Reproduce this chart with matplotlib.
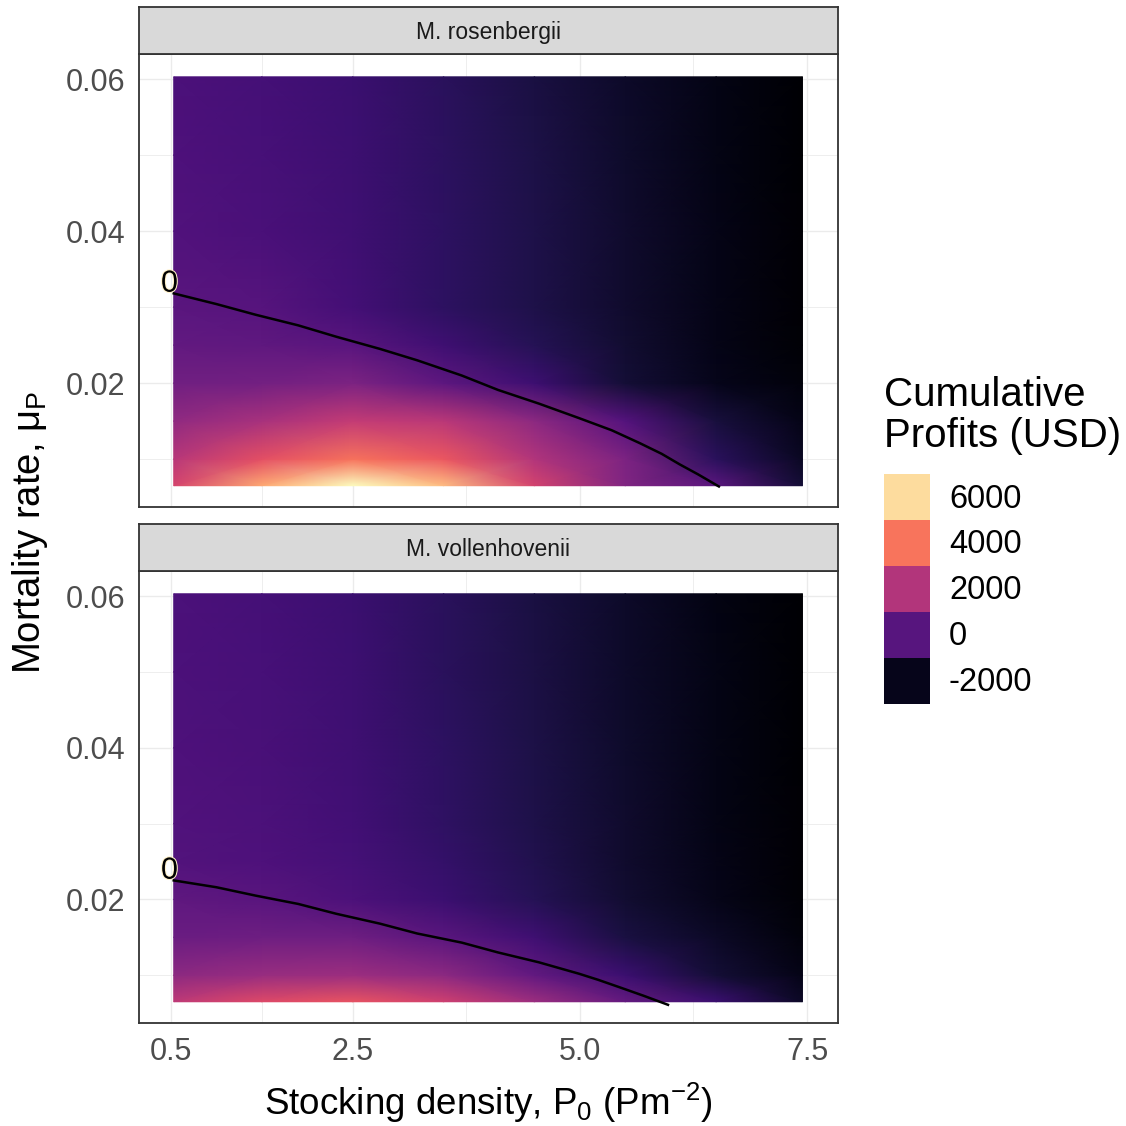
import numpy as np
import matplotlib.pyplot as plt
from matplotlib.colors import Normalize
from matplotlib.patches import Patch
import matplotlib.patheffects as pe

plt.rcParams["font.family"] = ["Liberation Sans", "DejaVu Sans"]
plt.rcParams["mathtext.fontset"] = "custom"
plt.rcParams["mathtext.rm"] = "Liberation Sans"
plt.rcParams["mathtext.it"] = "Liberation Sans:italic"

species = ["M. rosenbergii", "M. vollenhovenii"]

# grid of stocking density (columns) and mortality rate (rows)
p0 = [0.53, 1.5, 2.5, 3.5, 4.5, 5.5, 6.5, 7.45]
mu = [0.0065, 0.01, 0.015, 0.02, 0.025, 0.03, 0.04, 0.05, 0.0603]

# cumulative profits (USD)
profit_rosenbergii = [
    [2780, 5000, 6650, 5400, 2740, 920, 50, -1540],
    [2150, 3200, 3950, 3400, 2010, 830, -990, -1860],
    [1280, 1800, 2400, 2190, 1190, -100, -1450, -2090],
    [550, 640, 830, 140, -580, -1540, -2000, -2270],
    [230, 160, 20, -540, -1080, -1630, -2090, -2360],
    [60, -60, -450, -900, -1270, -1680, -2090, -2400],
    [-175, -310, -540, -900, -1270, -1680, -2090, -2400],
    [-220, -360, -585, -950, -1310, -1720, -2110, -2430],
    [-270, -400, -630, -990, -1360, -1740, -2130, -2450],
]
profit_vollenhovenii = [
    [2280, 3010, 3280, 2640, 1550, 280, -630, -1810],
    [1190, 1460, 1550, 1190, 250, -630, -1540, -2090],
    [420, 510, 510, 50, -540, -1360, -1810, -2270],
    [150, 20, -270, -630, -1080, -1630, -2040, -2360],
    [-130, -220, -400, -770, -1180, -1680, -2090, -2400],
    [-175, -280, -490, -860, -1270, -1700, -2100, -2410],
    [-220, -340, -560, -920, -1290, -1720, -2120, -2430],
    [-250, -375, -595, -960, -1320, -1740, -2130, -2440],
    [-270, -400, -630, -990, -1360, -1750, -2140, -2450],
]

# zero-profit contour
zero_p0_ros = [0.53, 1.0, 1.43, 1.9, 2.32, 2.8, 3.21, 3.7, 4.10, 4.55, 4.99, 5.35, 5.66, 5.9, 6.1, 6.3, 6.53]
zero_mu_ros = [0.0318, 0.0304, 0.0290, 0.0276, 0.0261, 0.0245, 0.0230, 0.0210, 0.0191,
               0.0173, 0.0154, 0.0138, 0.0121, 0.0107, 0.0093, 0.0080, 0.0064]
zero_p0_vol = [0.53, 1.0, 1.43, 1.9, 2.32, 2.8, 3.21, 3.7, 4.10, 4.55, 4.99, 5.2, 5.44, 5.7, 5.97]
zero_mu_vol = [0.0225, 0.0216, 0.0205, 0.0194, 0.0181, 0.0168, 0.0155, 0.0143, 0.0130,
               0.0117, 0.0102, 0.0094, 0.0084, 0.0073, 0.0061]

breaks = [6000, 4000, 2000, 0, -2000]

profits = [profit_rosenbergii, profit_vollenhovenii]
zeros = [(zero_p0_ros, zero_mu_ros), (zero_p0_vol, zero_mu_vol)]

cmap = plt.get_cmap("magma")
allv = np.array(profits)
norm = Normalize(vmin=allv.min(), vmax=allv.max())

W = 1126
fig = plt.figure(figsize=(11.26, 11.26), dpi=100)

panels = [(54, 507), (571, 1023)]
strips = [(7, 54), (524, 571)]
left, right = 139, 838

for i in range(2):
    top, bot = panels[i]
    ax = fig.add_axes([left / W, 1 - bot / W, (right - left) / W, (bot - top) / W])
    X, Y = np.meshgrid(p0, mu)
    ax.pcolormesh(X, Y, np.array(profits[i]), cmap=cmap, norm=norm,
                  shading="gouraud", zorder=2)
    zx, zy = zeros[i]
    ax.plot(zx, zy, color="black", lw=1.8, zorder=3)
    ax.annotate("0", xy=(zx[0], zy[0]), xytext=(-3, 7), textcoords="offset points",
                ha="center", va="center", fontsize=22, zorder=4,
                path_effects=[pe.withStroke(linewidth=1.5, foreground="#FFF1C8")])
    ax.set_xlim(0.148, 7.841)
    ax.set_ylim(0.0037, 0.0633)
    ax.set_xticks([0.5, 2.5, 5.0, 7.5])
    ax.set_xticks([1.5, 3.75, 6.25], minor=True)
    ax.set_yticks([0.02, 0.04, 0.06])
    ax.set_yticks([0.01, 0.03, 0.05], minor=True)
    ax.set_yticklabels(["0.02", "0.04", "0.06"])
    if i == 1:
        ax.set_xticklabels(["0.5", "2.5", "5.0", "7.5"])
    else:
        ax.set_xticklabels([])
    ax.tick_params(which="both", length=0, labelsize=22, labelcolor="#4D4D4D", pad=10)
    ax.grid(which="major", color="#EBEBEB", lw=1.0, zorder=0)
    ax.grid(which="minor", color="#EBEBEB", lw=0.6, zorder=0)
    ax.set_axisbelow(True)
    for s in ax.spines.values():
        s.set_color("#333333")
        s.set_linewidth(1.3)

    st, sb = strips[i]
    sax = fig.add_axes([left / W, 1 - sb / W, (right - left) / W, (sb - st) / W])
    sax.set_facecolor("#D9D9D9")
    sax.set_xticks([])
    sax.set_yticks([])
    for s in sax.spines.values():
        s.set_color("#333333")
        s.set_linewidth(1.3)
    sax.text(0.5, 0.45, species[i], ha="center", va="center", fontsize=16.5,
             color="#1A1A1A", transform=sax.transAxes)

fig.text((left + right) / 2 / W, 1 - 1103 / W,
         r"Stocking density, $\mathrm{P}_{0}$ $(\mathrm{Pm}^{-2})$",
         ha="center", va="center", fontsize=26.5)
fig.text(30 / W, 1 - 532 / W, r"Mortality rate, $\mathrm{μ}_{\mathrm{P}}$",
         ha="center", va="center", rotation=90, fontsize=27.5)

fig.text(884 / W, 1 - 376 / W, "Cumulative\nProfits (USD)", ha="left", va="top",
         fontsize=29, linespacing=1.1)

handles = [Patch(facecolor=cmap(norm(b)), edgecolor="none", label=str(b)) for b in breaks]
fig.legend(handles=handles, loc="upper left",
           bbox_to_anchor=(884 / W, 1 - 474 / W), frameon=False, fontsize=23.5,
           handlelength=1.41, handleheight=1.79, labelspacing=0,
           handletextpad=0.58, borderpad=0, borderaxespad=0)

fig.savefig("out.png", dpi=100)
